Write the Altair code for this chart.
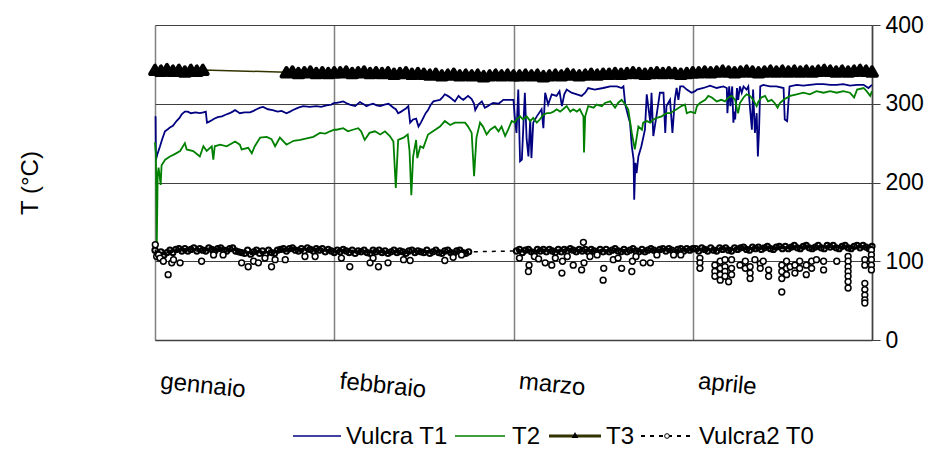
import altair as alt
import pandas as pd

# ---------------- data ----------------
# x = day since 1 January (each month drawn as 30 units), y = temperature in °C
t1_days = [0, 0.1, 0.15, 0.4, 0.84, 1.2, 1.67, 2.2, 2.5, 3.0, 3.6, 4.1, 4.5, 5.0, 5.5, 6.0, 6.8, 7.5, 8.1, 8.5,
           8.7, 9.0, 9.5, 9.9, 10.5, 11.2, 11.8, 12.5, 13.0, 13.4, 14.2, 15.0, 15.9, 16.5, 17.0, 17.6, 18.1, 18.9, 19.7, 20.5,
           21.2, 22.0, 22.6, 23.1, 24.0, 24.8, 25.9, 27.0, 27.8, 28.7, 29.5, 30.0,
           30.4, 31.0, 31.5, 32.0, 32.6, 33.5, 34.3, 35.0, 35.4, 36.0, 36.5, 37.1, 37.7, 38.4, 39.1, 39.9, 40.3, 40.7,
           41.2, 41.6, 42.0, 42.4, 42.7, 43.2, 43.7, 44.1, 44.5, 44.9, 45.3, 45.7, 46.1, 46.6, 47.1, 47.7, 48.1, 48.5,
           49.0, 49.4, 50.2, 50.8, 51.2, 51.6, 52.4, 53.0, 53.4, 53.6, 54.1, 54.7, 55.2, 55.7, 56.1, 56.6, 57.5, 58.3,
           59.1, 60.0, 60.2,
           60.5, 60.8, 61.1, 61.4, 61.6, 61.9, 62.2, 62.5, 62.8, 63.0, 63.3, 63.9, 64.7, 65.0, 65.3, 65.8, 66.4, 67.2,
           67.7, 68.1, 68.5, 68.9, 69.7, 70.6, 71.4, 72.0, 72.5, 73.6, 75.0, 76.2, 77.3, 78.1, 78.4, 78.7, 79.2, 79.5,
           79.8, 80.1, 80.2, 80.4, 80.6, 80.9, 81.4, 82.0, 82.3, 82.9, 83.1, 83.4, 84.0, 84.5, 85.1, 85.4, 85.6, 86.2,
           86.6, 87.0, 87.3, 87.6, 87.9, 88.4, 89.0, 89.8, 90.4,
           90.7, 91.8, 92.9, 94.0, 95.1, 95.7, 95.8, 96.1, 96.3, 96.6, 96.8, 97.0, 97.1, 97.4, 97.6, 97.9, 98.2, 98.5,
           99.0, 99.3, 99.6, 99.9, 100.1, 100.4, 100.7, 100.9, 101.1, 101.3, 101.8, 102.9, 104.0, 105.2, 105.4, 105.8,
           106.2, 107.4, 108.5, 109.6, 110.7, 111.9, 113.0, 114.1, 115.2, 116.3, 117.5, 118.6, 119.4, 120.0]
t1_vals = [284, 283, 229, 236, 246, 255, 265, 268, 270, 272, 278, 282, 287, 290, 290, 288, 289, 288, 289, 290,
           276, 277, 279, 281, 283, 284, 286, 288, 290, 292, 288, 289, 289, 291, 293, 295, 296, 293, 292, 290,
           291, 288, 290, 292, 295, 297, 296, 297, 296, 298, 299, 301,
           301, 302, 303, 301, 299, 297, 302, 299, 297, 299, 300, 298, 297, 299, 300, 295, 293, 288,
           290, 292, 294, 297, 276, 280, 281, 271, 276, 282, 288, 292, 298, 303, 304, 305, 308, 312,
           310, 308, 303, 310, 307, 305, 310, 306, 300, 292, 299, 303, 295, 297, 299, 301, 300, 305,
           305, 305, 284,
           263, 318, 227, 229, 263, 314, 255, 233, 280, 231, 276, 284, 293, 269, 314, 299, 312, 310,
           316, 297, 312, 318, 314, 312, 310, 314, 320, 318, 320, 322, 322, 320, 322, 299, 284, 276,
           246, 229, 178, 225, 212, 233, 246, 267, 312, 276, 314, 259, 288, 314, 314, 263, 297, 305,
           263, 305, 320, 305, 322, 322, 318, 314, 316,
           318, 320, 323, 320, 322, 320, 288, 322, 297, 322, 276, 290, 280, 320, 305, 322, 314, 322,
           318, 322, 293, 267, 318, 263, 288, 233, 267, 322, 324, 322, 322, 320, 280, 278,
           322, 324, 323, 324, 325, 325, 324, 324, 325, 323, 324, 324, 320, 324]

t2_days = [0, 0.15, 0.3, 0.45, 0.6, 0.95, 1.1, 1.7, 2.5, 3.3, 4.2, 5.0, 5.3, 6.4, 7.5, 8.1, 8.65, 9.5, 9.76, 10.0,
           10.9, 12.0, 13.4, 14.2, 14.5, 15.6, 16.2, 16.7, 17.6, 18.7, 19.5, 20.1, 20.9, 22.0, 23.2, 24.3, 25.4, 26.5,
           27.6, 28.5, 29.3, 30.0,
           30.4, 31.5, 32.3, 33.1, 34.0, 34.5, 35.1, 35.9, 36.8, 37.7, 38.5, 39.3, 39.9, 40.3, 40.7, 41.6, 42.3, 42.6,
           42.9, 43.2, 43.7, 43.9, 44.4, 44.9, 45.7, 46.9, 47.7, 48.5, 49.4, 50.2, 51.0, 51.9, 52.4, 53.0, 53.4, 53.8,
           54.4, 54.9, 55.5, 56.1, 56.9, 57.5, 58.0, 58.6, 59.1, 59.7, 60.2,
           60.5, 61.1, 61.6, 62.2, 62.8, 63.3, 63.9, 64.4, 65.0, 65.6, 66.1, 66.7, 67.2, 67.8, 68.3, 68.9, 69.5, 70.0,
           70.6, 71.1, 71.7, 71.8, 72.0, 72.5, 73.4, 73.9, 74.8, 75.3, 76.2, 76.4, 77.0, 77.5, 78.1, 78.7, 79.2, 79.8,
           80.3, 80.9, 81.5, 81.7, 82.3, 82.9, 83.4, 84.0, 84.8, 85.6, 86.2, 87.3, 88.1, 88.7, 89.0, 89.6, 90.4,
           90.7, 91.2, 92.1, 92.6, 93.2, 94.0, 94.8, 95.4, 96.0, 96.5, 97.1, 97.4, 97.6, 97.9, 98.5, 99.0, 99.6, 100.1,
           100.7, 101.0, 101.5, 102.1, 102.6, 103.2, 103.7, 104.2, 104.6, 105.2, 106.3, 107.4, 108.5, 109.6, 110.7,
           111.9, 113.0, 114.1, 115.2, 116.3, 117.0, 117.5, 118.6, 119.1, 119.7, 120.0]
t2_vals = [251, 237, 121, 210, 219, 197, 222, 229, 233, 236, 240, 250, 242, 240, 233, 246, 240, 246, 229, 246,
           248, 246, 252, 248, 242, 244, 237, 246, 257, 258, 255, 246, 257, 248, 253, 254, 256, 258,
           263, 262, 265, 267,
           267, 269, 265, 267, 269, 265, 254, 263, 265, 261, 265, 259, 252, 193, 254, 257, 261, 240,
           184, 233, 254, 231, 246, 244, 261, 267, 271, 278, 273, 276, 276, 276, 271, 263, 208, 257,
           276, 271, 261, 267, 271, 265, 271, 259, 267, 278, 276,
           280, 284, 280, 284, 278, 282, 276, 280, 286, 288, 288, 290, 293, 290, 293, 297, 290, 293,
           290, 293, 284, 238, 284, 297, 295, 299, 297, 301, 303, 301, 295, 301, 305, 299, 293, 263,
           242, 271, 267, 276, 278, 276, 280, 282, 284, 288, 288, 293, 297, 299, 288, 290, 288,
           297, 301, 305, 310, 308, 303, 305, 303, 308, 310, 305, 293, 288, 301, 308, 312, 310, 305,
           297, 303, 308, 310, 303, 305, 301, 295, 301, 305, 310, 312, 314, 312, 316,
           314, 316, 314, 316, 314, 308, 318, 320, 316, 310, 316]

# T3: one reading per day (gap between day 8 and day 22)
t3_days = list(range(0, 9)) + list(range(22, 121))
t3_vals = [343, 342, 344, 342, 343, 341, 343, 342, 343,
           340, 341, 339, 340, 341, 339, 340, 339, 340,
           340, 341, 339, 340, 341, 339, 340, 339, 340, 338, 339, 340, 338, 339, 338,
           337, 338, 336, 337, 338, 336, 337, 336, 337, 335, 336, 337, 336, 337, 336,
           336, 337, 336, 337, 335, 336, 337, 336, 338, 337, 336, 337, 338, 337, 338,
           338, 339, 338, 339, 340, 339, 338, 339, 340, 339, 340, 339, 338, 339, 340,
           340, 341, 340, 341, 342, 341, 340, 341, 342, 341, 340, 341, 342, 341, 342,
           341, 342, 341, 342, 341, 342, 343, 342, 341, 342, 341, 342, 343, 342, 341]

# Vulcra2 T0: readings every half day (gap between day 52.5 and day 60.5) ...
t0_days_a = [i * 0.5 for i in range(106)]
t0_vals_a = [114, 109, 112, 108, 111, 114, 111, 115, 116, 113,
             116, 113, 115, 117, 113, 116, 114, 113, 117, 115,
             113, 116, 117, 114, 113, 116, 117, 113, 112, 111,
             110, 114, 109, 112, 114, 110, 113, 109, 114, 111,
             110, 114, 115, 116, 113, 116, 117, 114, 113, 116,
             113, 117, 115, 113, 116, 114, 116, 112, 115, 113,
             111, 114, 112, 115, 113, 111, 114, 110, 113, 112,
             114, 111, 110, 114, 112, 114, 111, 113, 110, 112,
             114, 111, 113, 112, 110, 113, 114, 111, 113, 112,
             111, 114, 110, 112, 114, 111, 110, 113, 114, 111,
             110, 113, 114, 111, 110, 112]
t0_days_b = [60.5 + i * 0.5 for i in range(120)]
t0_vals_b = [113, 115, 111, 114, 115, 112, 111, 115, 113, 115,
             112, 115, 113, 111, 115, 112, 115, 113, 116, 114,
             112, 115, 113, 115, 112, 115, 113, 111, 115, 112,
             115, 112, 114, 116, 113, 112, 115, 112, 114, 116,
             113, 112, 115, 112, 114, 116, 114, 112, 115, 116,
             113, 116, 114, 112, 115, 116, 113, 116, 114, 116,
             116, 113, 117, 115, 113, 117, 114, 113, 117, 115,
             117, 114, 113, 117, 115, 117, 118, 115, 114, 118,
             116, 118, 115, 117, 119, 116, 115, 118, 119, 116,
             119, 116, 118, 120, 117, 116, 119, 120, 117, 116,
             118, 120, 117, 116, 120, 118, 120, 117, 116, 119,
             120, 117, 116, 119, 120, 117, 120, 118, 116, 119]
# ... and the low readings that fall below the band
t0_low_days = [0.05, 0.28, 0.6, 0.84, 1.4, 2.2, 2.8, 3.1, 4.2, 7.8, 9.8, 11.4, 14.5, 15.6, 16.5, 17.3, 18.4,
               19.5, 20.1, 21.8, 25.1, 26.8, 31.2, 32.6, 36.0, 36.5, 37.4, 39.0, 41.6, 42.7, 48.5, 49.9, 51.3,
               61.0, 62.5, 62.6, 63.5, 64.2, 65.3, 66.4, 67.0, 68.1, 68.2, 69.0, 70.0, 71.4, 71.7, 71.8, 72.8,
               74.0, 75.0, 75.1, 76.7, 77.5, 78.1, 79.8, 79.9, 80.5, 81.7, 82.9, 84.0, 86.8, 88.0,
               91.2, 91.2, 91.2, 93.7, 93.7, 93.7, 94.6, 94.6, 94.6, 94.6, 95.4, 95.4, 95.4, 95.4, 96.0,
               96.5, 96.5, 96.5, 97.9, 98.8, 98.8, 99.6, 99.6, 99.6, 100.4, 101.3, 101.3, 101.8, 102.7, 102.7,
               104.9, 104.9, 104.9, 104.9, 105.7, 105.7, 105.7, 106.3, 107.1, 107.1, 107.9, 107.9, 109.0, 109.0,
               109.9, 109.9, 110.7, 111.9, 111.9, 114.1,
               116.0, 116.0, 116.0, 116.0, 116.0, 116.0, 116.0,
               118.8, 118.8, 118.8, 118.8, 118.8, 118.8, 118.8,
               119.9, 119.9, 119.9, 119.9, 119.9]
t0_low_vals = [121, 106, 108, 104, 100, 83, 98, 102, 98, 100, 108, 108, 98, 93, 100, 98, 104,
               93, 102, 102, 106, 106, 104, 93, 98, 104, 93, 98, 102, 101, 101, 105, 108,
               104, 87, 95, 106, 103, 98, 95, 104, 85, 100, 106, 95, 89, 124, 98, 106,
               108, 76, 91, 102, 104, 91, 87, 100, 106, 98, 98, 108, 108, 108,
               104, 98, 91, 95, 87, 81, 100, 91, 83, 76, 102, 93, 87, 81, 74,
               102, 91, 83, 95, 100, 91, 93, 85, 78, 102, 97, 91, 100, 89, 81,
               95, 87, 78, 61, 100, 91, 83, 93, 95, 85, 100, 91, 95, 83,
               100, 91, 102, 100, 89, 100,
               106, 100, 93, 87, 81, 74, 66,
               102, 95, 72, 64, 57, 51, 47,
               114, 108, 102, 95, 89]

month_names = ["gennaio", "febbraio", "marzo", "aprile"]
month_starts = [0, 30, 60, 90]
y_ticks = [0, 100, 200, 300, 400]

# ---------------- tables ----------------
df_t1 = pd.DataFrame({"day": t1_days, "T": t1_vals})
df_t2 = pd.DataFrame({"day": t2_days, "T": t2_vals})
df_t3 = pd.DataFrame({"day": t3_days, "T": t3_vals})
df_t0_band = pd.DataFrame({"day": t0_days_a + t0_days_b, "T": t0_vals_a + t0_vals_b})
df_t0_low = pd.DataFrame({"day": t0_low_days, "T": t0_low_vals})

FONT = "Liberation Sans"
label_expr = " : ".join(
    f"datum.value == {v} ? '{n}'" for v, n in zip(month_starts, month_names)) + " : ''"

xscale = alt.Scale(domain=[0, 120], nice=False, zero=False)
yscale = alt.Scale(domain=[0, 400], nice=False)
x_axis = alt.Axis(values=month_starts + [120], labelExpr=label_expr, grid=True, gridColor="#808080",
                  gridWidth=1.5, domainColor="#404040", domainWidth=1.5, ticks=False,
                  labelAngle=6, labelAlign="left", labelBaseline="middle", labelPadding=41, labelOffset=5,
                  labelFontSize=24, labelFont=FONT, labelColor="black", labelFlush=False,
                  labelOverlap=False, title=None)
y_axis = alt.Axis(orient="right", values=y_ticks, grid=True, gridColor="#404040", gridWidth=1,
                  domainColor="#404040", domainWidth=1.5, tickColor="#404040", tickSize=8,
                  labelFontSize=23, labelFont=FONT, labelColor="black", labelPadding=5, title=None)

X = alt.X("day:Q", scale=xscale, axis=x_axis)
Y = alt.Y("T:Q", scale=yscale, axis=y_axis)

t1 = alt.Chart(df_t1).mark_line(color="#000080", strokeWidth=1.8).encode(x=X, y=Y, order="day:Q")
t2 = alt.Chart(df_t2).mark_line(color="#008000", strokeWidth=1.8).encode(x=X, y=Y, order="day:Q")
t3_line = alt.Chart(df_t3).mark_line(color="#333300", strokeWidth=1.5).encode(x=X, y=Y, order="day:Q")
t3_pts = alt.Chart(df_t3).mark_point(shape="triangle-up", filled=True, fill="black", stroke="black",
                                     strokeWidth=4, strokeJoin="round", size=95, opacity=1).encode(x=X, y=Y)
t0_line = alt.Chart(df_t0_band).mark_line(color="black", strokeWidth=1.5, strokeDash=[4, 5]).encode(
    x=X, y=Y, order="day:Q")
t0_band_pts = alt.Chart(df_t0_band).mark_point(shape="circle", filled=False, stroke="black",
                                               strokeWidth=2, size=28, opacity=1).encode(x=X, y=Y)
t0_low_pts = alt.Chart(df_t0_low).mark_point(shape="circle", filled=True, fill="white", stroke="black",
                                             strokeWidth=1.5, size=34, opacity=1).encode(x=X, y=Y)

one = pd.DataFrame({"k": [0]})
LY_TEXT = 419   # text baseline (relative to plot top)
LY = 411        # legend symbol line


def leg_text(x, s):
    return alt.Chart(one).mark_text(align="left", baseline="alphabetic", fontSize=24, font=FONT,
                                    color="black").encode(x=alt.value(x), y=alt.value(LY_TEXT),
                                                          text=alt.value(s))


legend = [
    alt.Chart(one).mark_rule(color="#000080", strokeWidth=1.5).encode(
        x=alt.value(138), x2=alt.value(186), y=alt.value(LY)),
    leg_text(191, "Vulcra T1"),
    alt.Chart(one).mark_rule(color="#008000", strokeWidth=1.5).encode(
        x=alt.value(300), x2=alt.value(350), y=alt.value(LY)),
    leg_text(357, "T2"),
    alt.Chart(one).mark_rule(color="#333300", strokeWidth=3).encode(
        x=alt.value(394), x2=alt.value(446), y=alt.value(LY)),
    alt.Chart(one).mark_point(shape="triangle-up", filled=True, color="black", size=45, opacity=1).encode(
        x=alt.value(420), y=alt.value(LY - 1)),
    leg_text(451, "T3"),
    alt.Chart(one).mark_rule(color="black", strokeWidth=2, strokeDash=[4, 5]).encode(
        x=alt.value(486), x2=alt.value(540), y=alt.value(LY)),
    alt.Chart(one).mark_point(shape="circle", filled=True, fill="white", stroke="black", strokeWidth=1,
                              size=22, opacity=1).encode(x=alt.value(512), y=alt.value(LY)),
    leg_text(544, "Vulcra2 T0"),
]

ytitle = alt.Chart(one).mark_text(angle=270, baseline="middle", align="center", fontSize=24, font=FONT,
                                  color="black").encode(x=alt.value(-124), y=alt.value(158),
                                                        text=alt.value("T (°C)"))

chart = alt.layer(t1, t2, t3_line, t3_pts, t0_line, t0_band_pts, t0_low_pts, ytitle, *legend).properties(
    width=717, height=315,
    autosize=alt.AutoSizeParams(type="none"),
    padding={"left": 147, "top": 17, "right": 54, "bottom": 109},
    background="white",
).configure_view(stroke=None)

chart.save("out.html", embed_options={"renderer": "svg", "actions": False})
